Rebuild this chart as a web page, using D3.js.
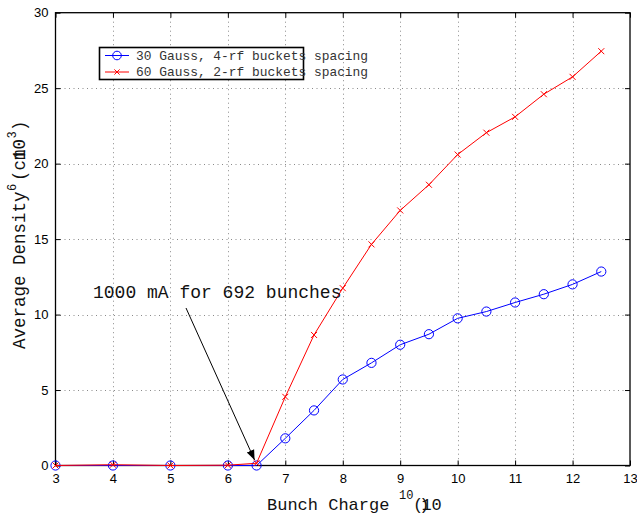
<!DOCTYPE html>
<html>
<head>
<meta charset="utf-8">
<script src="https://cdn.jsdelivr.net/npm/d3@7"></script>
<style>
  html, body { margin: 0; padding: 0; background: #fff; }
  svg { display: block; }
  .mono { font-family: "Courier New", "Liberation Mono", "DejaVu Sans Mono", monospace; }
  .tick-label { font-family: "Liberation Sans", Arial, Helvetica, sans-serif; font-size: 13px; }
</style>
</head>
<body>
<svg id="chart" width="637" height="515"></svg>
<script>
// Bunch charge (units of 10^10) and average density for the two configurations
const bunchCharge = [3, 4, 5, 6, 6.5, 7, 7.5, 8, 8.5, 9, 9.5, 10, 10.5, 11, 11.5, 12, 12.5];
const density30Gauss = [0, 0, 0, 0, 0, 1.8, 3.65, 5.7, 6.8, 8.0, 8.7, 9.75, 10.2, 10.8, 11.35, 12.0, 12.85];
const density60Gauss = [0, 0.05, 0, 0.02, 0.15, 4.55, 8.65, 11.75, 14.65, 16.9, 18.6, 20.6, 22.05, 23.1, 24.6, 25.75, 27.45];
const xTicks = [3, 4, 5, 6, 7, 8, 9, 10, 11, 12, 13];
const yTicks = [0, 5, 10, 15, 20, 25, 30];
const seriesNames = ["30 Gauss, 4-rf buckets spacing", "60 Gauss, 2-rf buckets spacing"];
const annotationText = "1000 mA for 692 bunches";
const annotationPoint = [6.5, 0.3];

const svg = d3.select("#chart");
const W = 637, H = 515;
const plot = { left: 55.5, right: 630, top: 12.7, bottom: 465.5 };

svg.append("rect").attr("width", W).attr("height", H).attr("fill", "#fff");

const x = d3.scaleLinear().domain([3, 13]).range([plot.left, plot.right]);
const y = d3.scaleLinear().domain([0, 30]).range([plot.bottom, plot.top]);

// Dotted grid
const grid = svg.append("g").attr("stroke", "#8a8a8a").attr("stroke-width", 1)
  .attr("stroke-dasharray", "1,3.5");
grid.selectAll("line.vx").data(xTicks.slice(1, -1)).join("line")
  .attr("x1", d => Math.round(x(d)) + 0.5).attr("x2", d => Math.round(x(d)) + 0.5)
  .attr("y1", plot.top).attr("y2", plot.bottom);
grid.selectAll("line.hy").data(yTicks.slice(1, -1)).join("line")
  .attr("y1", d => Math.round(y(d)) + 0.5).attr("y2", d => Math.round(y(d)) + 0.5)
  .attr("x1", plot.left).attr("x2", plot.right);

// Axes with inward ticks on all four sides
const tickLen = 5;
const axB = svg.append("g").attr("transform", `translate(0,${plot.bottom})`)
  .call(d3.axisBottom(x).tickValues(xTicks).tickSize(-tickLen).tickPadding(8).tickFormat(d3.format("d")));
const axT = svg.append("g").attr("transform", `translate(0,${plot.top})`)
  .call(d3.axisTop(x).tickValues(xTicks).tickSize(-tickLen).tickFormat(""));
const axL = svg.append("g").attr("transform", `translate(${plot.left},0)`)
  .call(d3.axisLeft(y).tickValues(yTicks).tickSize(-tickLen).tickPadding(7).tickFormat(d3.format("d")));
const axR = svg.append("g").attr("transform", `translate(${plot.right},0)`)
  .call(d3.axisRight(y).tickValues(yTicks).tickSize(-tickLen).tickFormat(""));
[axB, axT, axL, axR].forEach(a => {
  a.select(".domain").remove();
  a.selectAll(".tick line").attr("stroke", "#000");
  a.selectAll("text").attr("class", "tick-label").attr("fill", "#000");
});
svg.append("rect")
  .attr("x", plot.left).attr("y", plot.top)
  .attr("width", plot.right - plot.left).attr("height", plot.bottom - plot.top)
  .attr("fill", "none").attr("stroke", "#000").attr("stroke-width", 1.3);

// Series lines
const pts30 = bunchCharge.map((c, i) => [c, density30Gauss[i]]);
const pts60 = bunchCharge.map((c, i) => [c, density60Gauss[i]]);
const line = d3.line().x(d => x(d[0])).y(d => y(d[1]));

svg.append("path").datum(pts30).attr("d", line)
  .attr("fill", "none").attr("stroke", "#0000ff").attr("stroke-width", 1);
svg.selectAll("circle.m30").data(pts30).join("circle")
  .attr("cx", d => x(d[0])).attr("cy", d => y(d[1])).attr("r", 4.6)
  .attr("fill", "none").attr("stroke", "#0000ff").attr("stroke-width", 1);

svg.append("path").datum(pts60).attr("d", line)
  .attr("fill", "none").attr("stroke", "#ff0000").attr("stroke-width", 1);
const xMark = (cx, cy, s) => `M${cx - s},${cy - s}L${cx + s},${cy + s}M${cx - s},${cy + s}L${cx + s},${cy - s}`;
svg.selectAll("path.m60").data(pts60).join("path")
  .attr("d", d => xMark(x(d[0]), y(d[1]), 3))
  .attr("fill", "none").attr("stroke", "#ff0000").attr("stroke-width", 1);

// Legend
const lg = svg.append("g");
lg.append("rect").attr("x", 99.5).attr("y", 47.5).attr("width", 204).attr("height", 32)
  .attr("fill", "#fff").attr("stroke", "#000").attr("stroke-width", 1.6);
const legendRows = [
  { name: seriesNames[0], color: "#0000ff", marker: "circle", cy: 55.5 },
  { name: seriesNames[1], color: "#ff0000", marker: "x", cy: 72 }
];
legendRows.forEach(r => {
  lg.append("line").attr("x1", 105).attr("x2", 129).attr("y1", r.cy).attr("y2", r.cy)
    .attr("stroke", r.color).attr("stroke-width", 1);
  if (r.marker === "circle") {
    lg.append("circle").attr("cx", 117).attr("cy", r.cy).attr("r", 4.3)
      .attr("fill", "none").attr("stroke", r.color).attr("stroke-width", 1);
  } else {
    lg.append("path").attr("d", xMark(117, r.cy, 2.6))
      .attr("stroke", r.color).attr("stroke-width", 1).attr("fill", "none");
  }
  lg.append("text").attr("class", "mono").attr("x", 136).attr("y", r.cy + 4)
    .attr("font-size", 12.9).attr("fill", "#333").text(r.name);
});

// Annotation with arrow
const defs = svg.append("defs");
defs.append("marker").attr("id", "arrowhead").attr("viewBox", "0 0 10 10")
  .attr("refX", 10).attr("refY", 5).attr("markerWidth", 10).attr("markerHeight", 10)
  .attr("markerUnits", "userSpaceOnUse").attr("orient", "auto")
  .append("path").attr("d", "M0,1L10,5L0,9Z").attr("fill", "#000");
svg.append("line")
  .attr("x1", 186).attr("y1", 308)
  .attr("x2", x(annotationPoint[0]) - 2).attr("y2", y(annotationPoint[1]) - 1)
  .attr("stroke", "#000").attr("stroke-width", 1).attr("marker-end", "url(#arrowhead)");
svg.append("text").attr("class", "mono").attr("x", 93).attr("y", 297.5)
  .attr("font-size", 18).attr("fill", "#111").text(annotationText);

// X axis label: "Bunch Charge", exponent 10, then the parenthesised unit
const xl = svg.append("g").attr("class", "mono").attr("fill", "#111");
xl.append("text").attr("x", 267).attr("y", 510).attr("font-size", 17).text("Bunch Charge");
xl.append("text").attr("x", 399).attr("y", 499).attr("font-size", 12).text("10");
xl.append("text").attr("x", 413).attr("y", 510).attr("font-size", 17)
  .attr("dx", "0 -4 -8 0").text("()10");

// Y axis label (rotated), pieces placed along the text direction
const yl = svg.append("g").attr("class", "mono").attr("fill", "#111")
  .attr("transform", "translate(25,349) rotate(-90)");
yl.append("text").attr("x", 0).attr("y", 0).attr("font-size", 17.5).text("Average Density");
yl.append("text").attr("x", 158).attr("y", -9).attr("font-size", 12).text("6");
yl.append("text").attr("x", 168).attr("y", 0).attr("font-size", 17.5)
  .attr("dx", "0 0 0 -10.5 0").text("(cm10");
yl.append("text").attr("x", 210.5).attr("y", -9).attr("font-size", 12).text("3");
yl.append("text").attr("x", 218).attr("y", 0).attr("font-size", 17.5).text(")");
</script>
</body>
</html>
